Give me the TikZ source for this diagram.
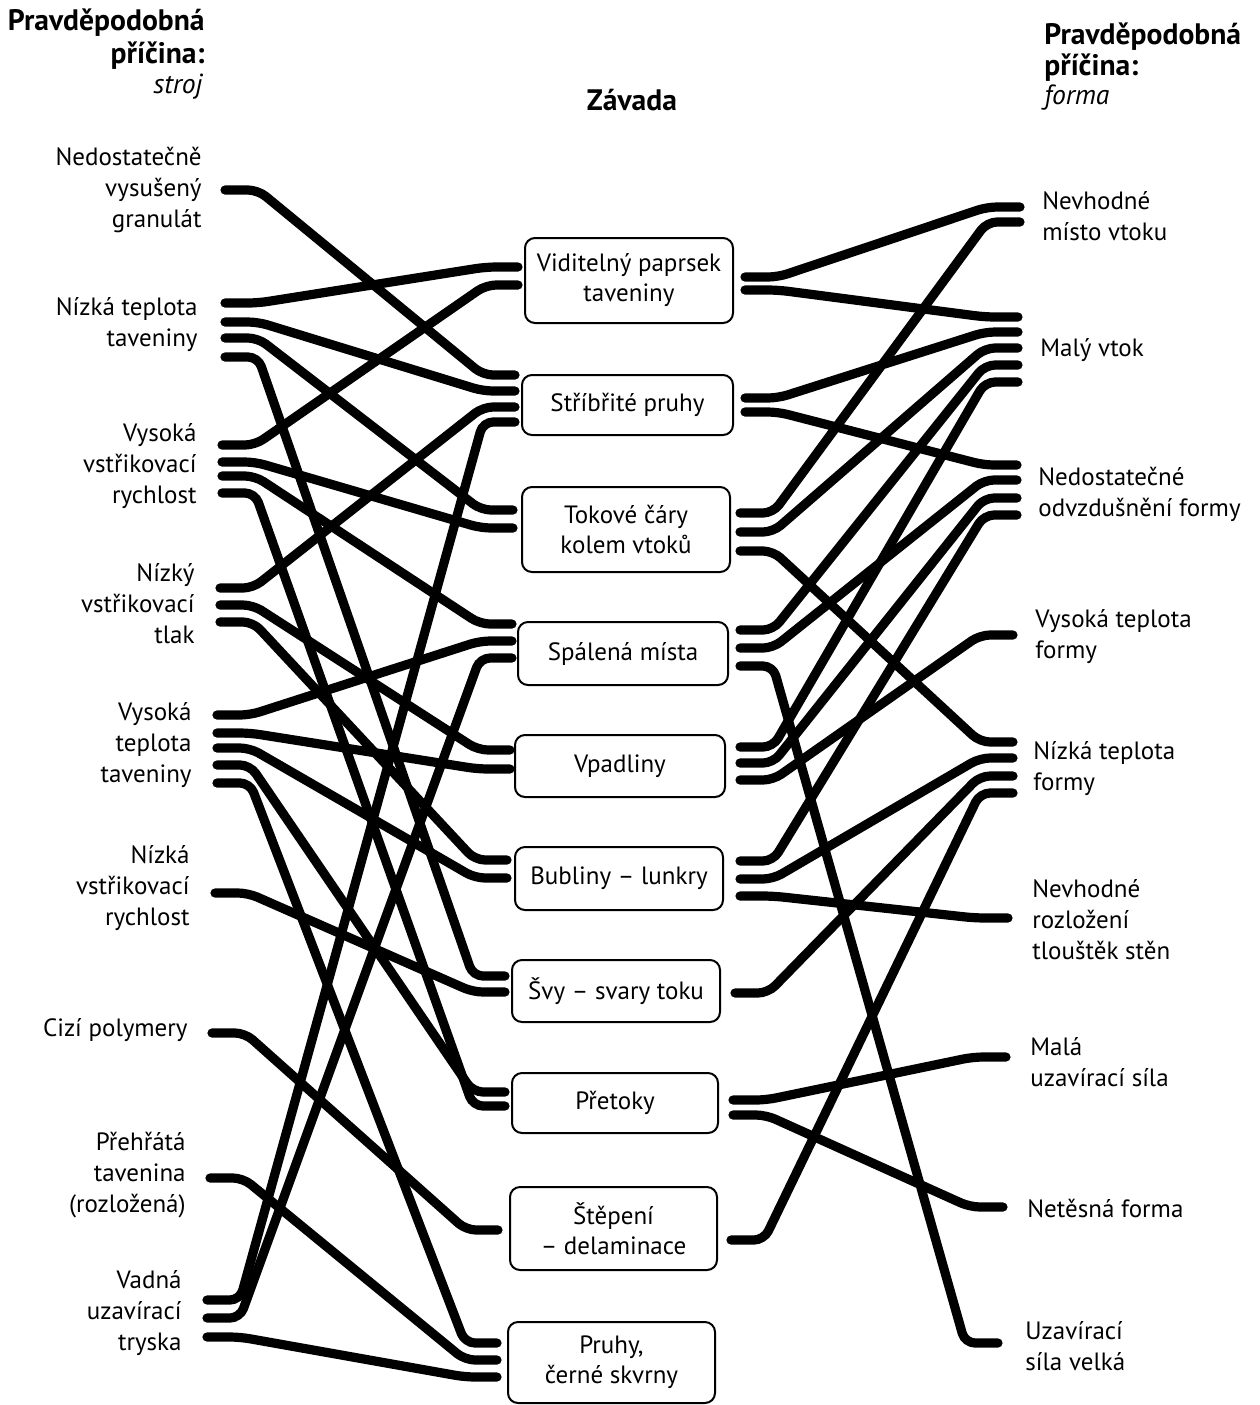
\documentclass[tikz,border=0pt]{standalone}
\usepackage{fontspec}
\setmainfont{PT Sans}
\usetikzlibrary{calc}
\tikzset{
  conn/.style={line width=4.6pt, line cap=round, rounded corners=5pt},
  zbox/.style={draw, line width=1pt, rounded corners=5pt, align=center, inner sep=0pt,
     font=\fontsize{12.5}{15}\selectfont},
  lab/.style={align=right, anchor=east, inner sep=0pt, font=\fontsize{12.5}{15.5}\selectfont},
  rlab/.style={align=left, anchor=west, inner sep=0pt, font=\fontsize{12.5}{15.5}\selectfont},
  head/.style={inner sep=0pt, font=\fontsize{14.8}{16}\selectfont\bfseries},
  headit/.style={inner sep=0pt, font=\fontsize{13.8}{16}\selectfont\itshape},
}
\newcommand{\lconn}[2]{\draw[conn] (#1) -- ++(33,0) -- ($(#2)+(-32,0)$) -- (#2);}
\newcommand{\rconn}[2]{\draw[conn] (#1) -- ++(33,0) -- ($(#2)+(-33,0)$) -- (#2);}
\begin{document}
\begin{tikzpicture}[x=0.5pt,y=-0.5pt]
\useasboundingbox (0,0) rectangle (1260,1405);
\fill[white] (0,0) rectangle (1260,1405);

% headings
\node[head, anchor=east] (hl1) at (205,23) {Pravděpodobná};
\node[head, anchor=east] (hl2) at (205,56) {příčina:};
\node[headit, anchor=east] (hl3) at (203,87) {stroj};
\node[head] (hc) at (632,100) {Závada};
\node[head, anchor=west] (hr1) at (1044,37) {Pravděpodobná};
\node[head, anchor=west] (hr2) at (1044,68) {příčina:};
\node[headit, anchor=west] (hr3) at (1044,98) {forma};

% left labels
\node[lab] (lA) at (202,190) {Nedostatečně\\vysušený\\granulát};
\node[lab] (lB) at (198,325) {Nízká teplota\\taveniny};
\node[lab] (lC) at (197,466) {Vysoká\\vstřikovací\\rychlost};
\node[lab] (lD) at (195,604) {Nízký\\vstřikovací\\tlak};
\node[lab] (lE) at (192,745) {Vysoká\\teplota\\taveniny};
\node[lab] (lF) at (190,888) {Nízká\\vstřikovací\\rychlost};
\node[lab] (lG) at (188,1030) {Cizí polymery};
\node[lab] (lH) at (186,1175) {Přehřátá\\tavenina\\(rozložená)};
\node[lab] (lI) at (182,1313) {Vadná\\uzavírací\\tryska};

% right labels
\node[rlab] (rA) at (1042,216) {Nevhodné\\místo vtoku};
\node[rlab] (rB) at (1040,350) {Malý vtok};
\node[rlab] (rC) at (1038,494) {Nedostatečné\\odvzdušnění formy};
\node[rlab] (rD) at (1035,637) {Vysoká teplota\\formy};
\node[rlab] (rE) at (1033,769) {Nízká teplota\\formy};
\node[rlab] (rF) at (1032,920) {Nevhodné\\rozložení\\tlouštěk stěn};
\node[rlab] (rG) at (1030,1062) {Malá\\uzavírací síla};
\node[rlab] (rH) at (1027,1208) {Netěsná forma};
\node[rlab] (rI) at (1025,1346) {Uzavírací\\síla velká};

% center boxes
\node[zbox, minimum width=104pt, minimum height=42.5pt] (bV) at (629,280.5) {Viditelný paprsek\\taveniny};
\node[zbox, minimum width=105.5pt, minimum height=30pt] (bS) at (627.5,405) {Stříbřité pruhy};
\node[zbox, minimum width=104pt, minimum height=42.5pt] (bT) at (626,529.5) {Tokové čáry\\kolem vtoků};
\node[zbox, minimum width=105pt, minimum height=31.5pt] (bP) at (623,653.5) {Spálená místa};
\node[zbox, minimum width=105pt, minimum height=31pt] (bW) at (620,766) {Vpadliny};
\node[zbox, minimum width=104pt, minimum height=31.5pt] (bB) at (619,878.5) {Bubliny – lunkry};
\node[zbox, minimum width=104pt, minimum height=31pt] (bSv) at (616,991) {Švy – svary toku};
\node[zbox, minimum width=103pt, minimum height=30pt] (bO) at (615,1103) {Přetoky};
\node[zbox, minimum width=103.5pt, minimum height=41.5pt] (bD) at (613.5,1228.5) {Štěpení\\– delaminace};
\node[zbox, minimum width=103.5pt, minimum height=40.5pt] (bPR) at (611.5,1362.5) {Pruhy,\\černé skvrny};

% left cause stub ends
\coordinate (A1) at (225,190);
\coordinate (B1) at (225,303); \coordinate (B2) at (225,322); \coordinate (B3) at (225,338); \coordinate (B4) at (225,357);
\coordinate (C1) at (222,445); \coordinate (C2) at (222,462); \coordinate (C3) at (222,476); \coordinate (C4) at (222,493);
\coordinate (D1) at (220,588); \coordinate (D2) at (220,605); \coordinate (D3) at (220,622);
\coordinate (E1) at (217,715); \coordinate (E2) at (217,733); \coordinate (E3) at (217,748); \coordinate (E4) at (217,765); \coordinate (E5) at (217,783);
\coordinate (F1) at (215,893);
\coordinate (G1) at (212,1033);
\coordinate (H1) at (210,1178);
\coordinate (I1) at (207,1300); \coordinate (I2) at (207,1318); \coordinate (I3) at (207,1337);

% centre left stub ends
\coordinate (VL1) at (518,267); \coordinate (VL2) at (518,285);
\coordinate (SL1) at (515,375); \coordinate (SL2) at (515,391); \coordinate (SL3) at (515,407); \coordinate (SL4) at (515,422);
\coordinate (TL1) at (513,510); \coordinate (TL2) at (513,528);
\coordinate (PL1) at (512,624); \coordinate (PL2) at (512,641); \coordinate (PL3) at (512,658);
\coordinate (WL1) at (510,750); \coordinate (WL2) at (510,769);
\coordinate (BL1) at (507,860); \coordinate (BL2) at (507,878);
\coordinate (SvL1) at (505,976); \coordinate (SvL2) at (505,992);
\coordinate (OL1) at (505,1092); \coordinate (OL2) at (505,1106);
\coordinate (DL1) at (498,1230);
\coordinate (PRL1) at (497,1343); \coordinate (PRL2) at (497,1360); \coordinate (PRL3) at (497,1377);

% centre right stub starts
\coordinate (VR1) at (745,277); \coordinate (VR2) at (745,290);
\coordinate (SR1) at (745,398); \coordinate (SR2) at (745,412);
\coordinate (TR1) at (740,513); \coordinate (TR2) at (740,532); \coordinate (TR3) at (740,551);
\coordinate (PR1) at (740,630); \coordinate (PR2) at (740,648); \coordinate (PR3) at (740,666);
\coordinate (WR1) at (740,747); \coordinate (WR2) at (740,763); \coordinate (WR3) at (740,780);
\coordinate (BR1) at (740,861); \coordinate (BR2) at (740,879); \coordinate (BR3) at (740,896);
\coordinate (SvR1) at (735,993);
\coordinate (OR1) at (733,1100); \coordinate (OR2) at (733,1115);
\coordinate (DR1) at (731,1240);

% right cause stub ends
\coordinate (R1a) at (1020,207); \coordinate (R1b) at (1020,222);
\coordinate (R2a) at (1018,317); \coordinate (R2b) at (1018,332); \coordinate (R2c) at (1018,348); \coordinate (R2d) at (1018,365); \coordinate (R2e) at (1018,382);
\coordinate (R3a) at (1017,465); \coordinate (R3b) at (1017,480); \coordinate (R3c) at (1017,498); \coordinate (R3d) at (1017,515);
\coordinate (R4a) at (1013,635);
\coordinate (R5a) at (1013,742); \coordinate (R5b) at (1013,758); \coordinate (R5c) at (1013,776); \coordinate (R5d) at (1013,793);
\coordinate (R6a) at (1008,918);
\coordinate (R7a) at (1006,1057);
\coordinate (R8a) at (1003,1207);
\coordinate (R9a) at (998,1343);

% left connectors
\lconn{A1}{SL1}
\lconn{B1}{VL1}
\lconn{B2}{SL2}
\lconn{B3}{TL1}
\lconn{B4}{SvL1}
\lconn{C1}{VL2}
\lconn{C2}{TL2}
\lconn{C3}{PL1}
\lconn{C4}{OL2}
\lconn{D1}{SL3}
\lconn{D2}{WL1}
\lconn{D3}{BL1}
\lconn{E1}{PL2}
\lconn{E2}{WL2}
\lconn{E3}{BL2}
\lconn{E4}{OL1}
\lconn{E5}{PRL1}
\lconn{F1}{SvL2}
\lconn{G1}{DL1}
\lconn{H1}{PRL2}
\lconn{I1}{SL4}
\lconn{I2}{PL3}
\lconn{I3}{PRL3}

% right connectors
\rconn{VR1}{R1a}
\rconn{VR2}{R2a}
\rconn{SR1}{R2b}
\rconn{SR2}{R3a}
\rconn{TR1}{R1b}
\rconn{TR2}{R2c}
\rconn{TR3}{R5a}
\rconn{PR1}{R2d}
\rconn{PR2}{R3b}
\rconn{PR3}{R9a}
\rconn{WR1}{R2e}
\rconn{WR2}{R3c}
\rconn{WR3}{R4a}
\rconn{BR1}{R3d}
\rconn{BR2}{R5b}
\rconn{BR3}{R6a}
\rconn{SvR1}{R5c}
\rconn{OR1}{R7a}
\rconn{OR2}{R8a}
\rconn{DR1}{R5d}
\end{tikzpicture}
\end{document}
